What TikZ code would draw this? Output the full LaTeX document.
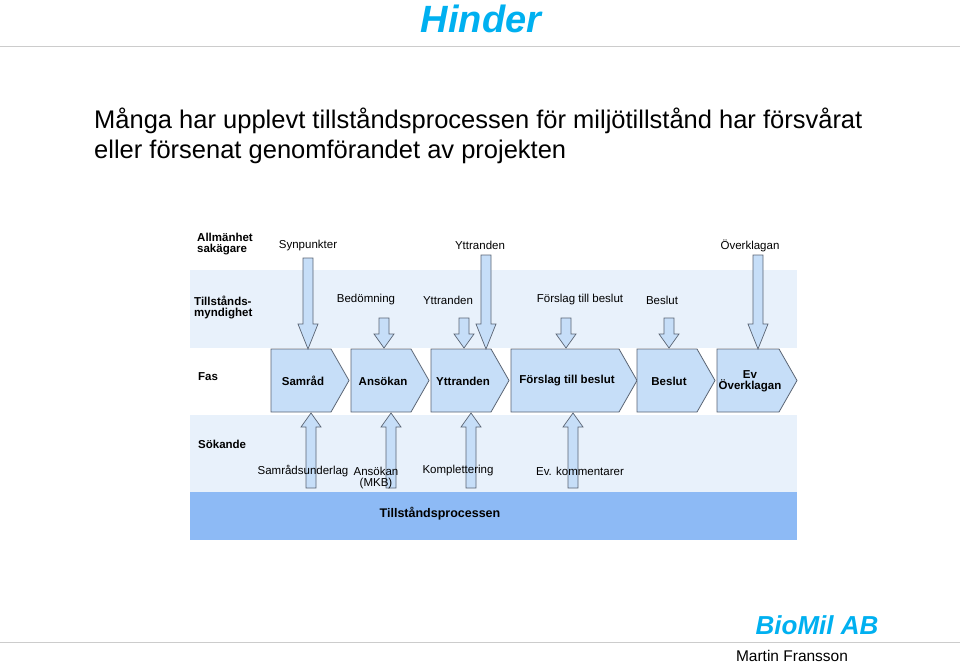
\documentclass[tikz,border=0pt]{standalone}
\usepackage{fontspec}
\setmainfont{Liberation Sans}
\definecolor{ttl}{RGB}{0,176,240}
\definecolor{band}{RGB}{232,241,251}
\definecolor{dark}{RGB}{141,186,245}
\definecolor{chev}{RGB}{198,222,248}
\definecolor{edge}{RGB}{90,100,115}
\newcommand\bdown[4]{% x, ytop, ybot, headlen
 \draw[arr] (#1-5,#2) -- (#1+5,#2) -- (#1+5,#3-#4) -- (#1+10,#3-#4) -- (#1,#3) -- (#1-10,#3-#4) -- (#1-5,#3-#4) -- cycle;}
\newcommand\bup[4]{% x, ybot, ytop, headlen
 \draw[arr] (#1-5,#2) -- (#1+5,#2) -- (#1+5,#3+#4) -- (#1+10,#3+#4) -- (#1,#3) -- (#1-10,#3+#4) -- (#1-5,#3+#4) -- cycle;}
\newcommand\chv[4]{% name, xl, xr, text
 \fill[chev,draw=edge,line width=0.8] (#2,349) -- (#3-18,349) -- (#3,380.5) -- (#3-18,412) -- (#2,412) -- cycle;
 \node[lab,font=\bfseries\fontsize{11.5}{13}\selectfont,align=center] (#1) at ({(#2+#3-14)/2},381) {#4};}
\begin{document}
\begin{tikzpicture}[x=1pt,y=-1pt,
 arr/.style={fill=chev,draw=edge,line width=0.7},
 lab/.style={inner sep=0pt,font=\fontsize{11.5}{13}\selectfont},
 blab/.style={inner sep=0pt,font=\bfseries\fontsize{11.5}{13}\selectfont,align=left,anchor=west}]
\useasboundingbox (0,0) rectangle (960,664);
\node[text=ttl,font=\bfseries\itshape\fontsize{38}{40}\selectfont] (title) at (481,19) {Hinder};
\draw[gray!40,line width=0.8] (0,46) -- (960,46);
\node[anchor=north west,align=left,inner sep=0pt,font=\fontsize{25.5}{30}\selectfont] (body) at (94,108)
 {Många har upplevt tillståndsprocessen för miljötillstånd har försvårat\\eller försenat genomförandet av projekten};
% bands
\fill[band] (190,270) rectangle (797,348);
\fill[band] (190,415) rectangle (797,492);
\fill[dark] (190,492) rectangle (797,540);
\node[blab] (r1) at (197,244) {Allmänhet\\[-2pt]sakägare};
\node[blab] (r2) at (194,307) {Tillstånds-\\[-2pt]myndighet};
\node[blab] (r3) at (198,377) {Fas};
\node[blab] (r4) at (198,444) {Sökande};
\node[lab,font=\bfseries\fontsize{12.5}{14}\selectfont] (tp) at (440,514) {Tillståndsprocessen};
\chv{c1}{271}{349}{Samråd}
\chv{c2}{351}{429}{Ansökan}
\chv{c3}{431}{509}{Yttranden}
\chv{c4}{511}{637}{Förslag till beslut}
\chv{c5}{637}{715}{Beslut}
\chv{c6}{717}{797}{Ev\\[-2pt]Överklagan}
\bdown{308}{258}{349}{25}
\bdown{486}{255}{349}{25}
\bdown{758}{255}{349}{25}
\bdown{384}{318}{348}{14}
\bdown{464}{318}{348}{14}
\bdown{566}{318}{348}{14}
\bdown{669}{318}{348}{14}
\bup{311}{488}{413}{14}
\bup{391}{488}{413}{14}
\bup{471}{488}{413}{14}
\bup{573}{488}{413}{14}
\node[lab] (t1) at (308,246) {Synpunkter};
\node[lab] (t2) at (480,245) {Yttranden};
\node[lab] (t3) at (750,246) {Överklagan};
\node[lab] (m1) at (366,300) {Bedömning};
\node[lab] (m2) at (448,300) {Yttranden};
\node[lab] (m3) at (580,300) {Förslag till beslut};
\node[lab] (m4) at (662,300) {Beslut};
\node[lab] (s1) at (303,471) {Samrådsunderlag};
\node[lab,align=center] (s2) at (376,478) {Ansökan\\[-2pt](MKB)};
\node[lab] (s3) at (458,471) {Komplettering};
\node[lab] (s4) at (580,471) {Ev. kommentarer};
\node[text=ttl,font=\bfseries\itshape\fontsize{26}{28}\selectfont] (bio) at (817,625) {BioMil AB};
\draw[gray!40,line width=0.8] (0,642) -- (960,642);
\node[font=\fontsize{15.5}{17}\selectfont] (mf) at (792,656) {Martin Fransson};
\end{tikzpicture}
\end{document}
